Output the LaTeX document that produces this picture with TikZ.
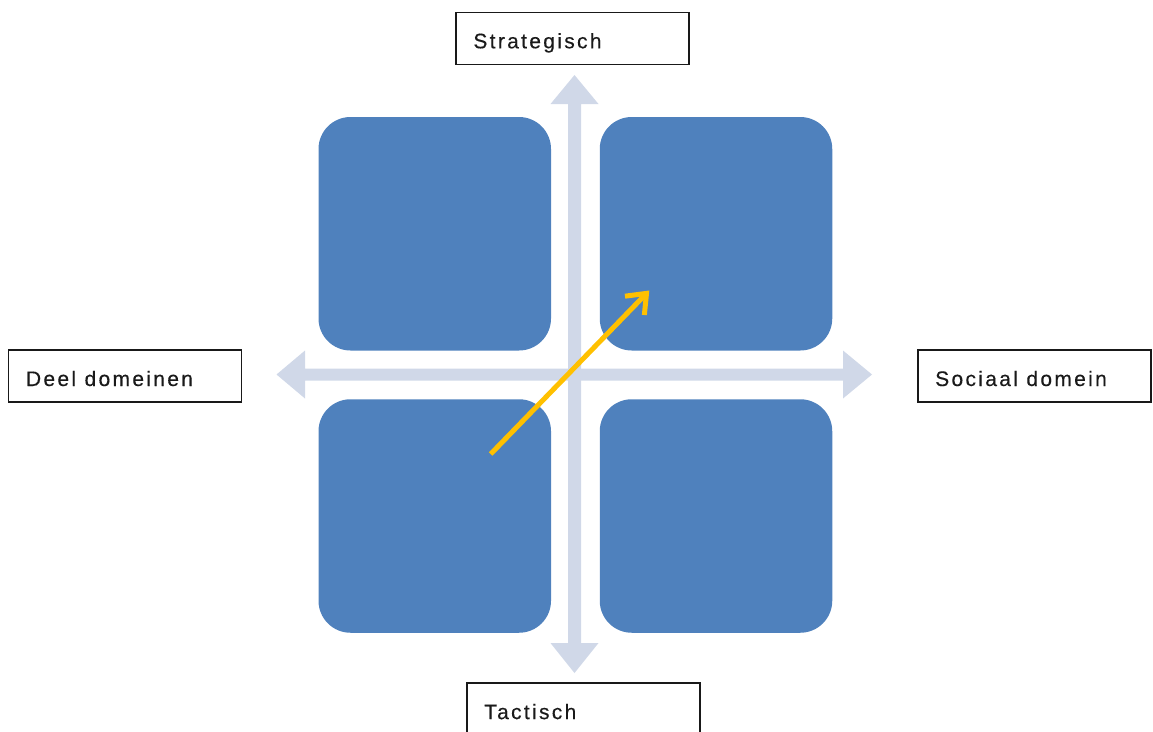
\documentclass[tikz,border=0pt]{standalone}
\usepackage{fontspec}
\setmainfont{Liberation Sans}[LetterSpace=11, FakeBold=0.3]
\usetikzlibrary{arrows.meta}

\definecolor{quadblue}{HTML}{4F81BD}
\definecolor{axisgray}{HTML}{D0D8E8}
\definecolor{gold}{HTML}{FFC000}
\definecolor{labeltext}{HTML}{1A1A1A}

% label font with a slightly wider word space
\newcommand{\axislabelfont}{\fontsize{21}{25}\selectfont
  \setlength{\spaceskip}{8.5pt plus 1pt minus 1pt}}

\tikzset{
  quad/.style={fill=quadblue, draw=none, rounded corners=32pt, inner sep=0pt,
    minimum width=232.5pt, minimum height=233.5pt},
  axisarrow/.style={fill=axisgray, draw=none},
  axislabel/.style={draw=black!90, line width=1.7pt, fill=white,
    text width=198pt, inner xsep=17.5pt, inner ysep=0pt, align=flush left,
    minimum height=52pt, text height=20pt, text depth=0.4pt,
    text=labeltext, font=\axislabelfont},
  trend/.style={draw=gold, line width=5pt,
    -{Straight Barb[length=17pt, width=27pt]}}
}

\begin{document}
\begin{tikzpicture}[x=1pt, y=-1pt]
\useasboundingbox (0,0) rectangle (1153,731);

% vertical axis: strategic (up) versus tactical (down)
\fill[axisarrow] (574.5,75) -- (598.5,104) -- (581,104) -- (581,643)
  -- (598.5,643) -- (574.5,673) -- (550.5,643) -- (568,643)
  -- (568,104) -- (550.5,104) -- cycle;
% horizontal axis: partial domains (left) versus social domain (right)
\fill[axisarrow] (276.5,374.5) -- (305,350.5) -- (305,368.5) -- (843,368.5)
  -- (843,350.5) -- (872,374.5) -- (843,398.5) -- (843,380.5)
  -- (305,380.5) -- (305,398.5) -- cycle;

% the four quadrants
\node[quad] (tl) at (434.75,233.75) {};
\node[quad] (tr) at (716,233.75) {};
\node[quad] (bl) at (434.75,516) {};
\node[quad] (br) at (716,516) {};

% axis labels
\node[axislabel] (strat) at (572.4,38.5) {Strategisch};
\node[axislabel] (deel) at (125,376.2) {Deel domeinen};
\node[axislabel] (soc) at (1034.2,376.2) {Sociaal domein};
\node[axislabel] (tact) at (583.3,709.3) {Tactisch};

% movement from tactical/partial towards strategic/social
\coordinate (movefrom) at (490.7,454);
\coordinate (moveto) at (649.3,290.5);
\draw[trend] (movefrom) -- (moveto);
\end{tikzpicture}
\end{document}
